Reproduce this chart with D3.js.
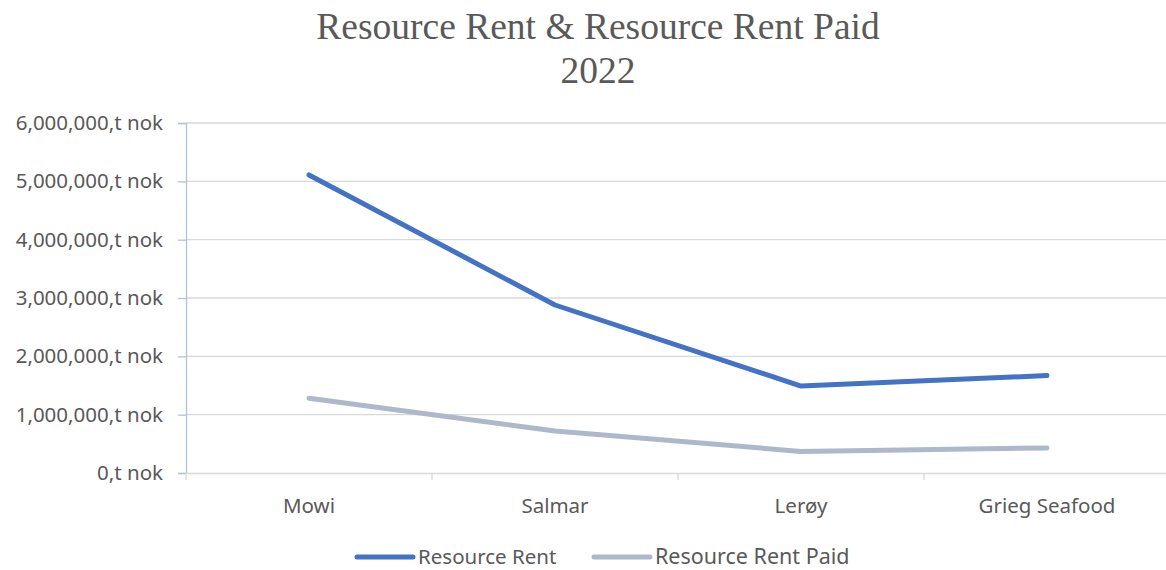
<!DOCTYPE html>
<html>
<head>
<meta charset="utf-8">
<script src="https://cdn.jsdelivr.net/npm/d3@7"></script>
<style>
body { margin: 0; background: #fff; }
text { fill: #595959; }
</style>
</head>
<body>
<script>
var width = 1166, height = 570;

var companies = ["Mowi", "Salmar", "Lerøy", "Grieg Seafood"];
var resourceRent = [5110000, 2880000, 1490000, 1670000];
var resourceRentPaid = [1280000, 720000, 370000, 430000];
var yTicks = [0, 1000000, 2000000, 3000000, 4000000, 5000000, 6000000];

var margin = {left: 186, right: 1170, top: 123, bottom: 473};
var labelFont = "'Noto Sans', sans-serif";
var labelSize = "20.5px";

var svg = d3.select("body").append("svg")
    .attr("width", width)
    .attr("height", height);

var x = d3.scaleBand().domain(companies).range([margin.left, margin.right]);
var y = d3.scaleLinear().domain([0, 6000000]).range([margin.bottom, margin.top]);

// title
svg.append("text")
    .attr("x", 598).attr("y", 39)
    .attr("text-anchor", "middle")
    .style("font-family", "'Liberation Serif', 'Times New Roman', serif")
    .style("font-size", "37.5px")
    .text("Resource Rent & Resource Rent Paid");
svg.append("text")
    .attr("x", 598).attr("y", 83)
    .attr("text-anchor", "middle")
    .style("font-family", "'Liberation Serif', 'Times New Roman', serif")
    .style("font-size", "37.5px")
    .text("2022");

// gridlines
svg.append("g").selectAll("line")
    .data(yTicks.slice(1))
    .enter().append("line")
    .attr("x1", margin.left).attr("x2", margin.right)
    .attr("y1", d => y(d)).attr("y2", d => y(d))
    .attr("stroke", "#d9d9d9").attr("stroke-width", 1.3);

// y axis
var fmt = d => d3.format(",")(d) + ",t nok";
var yAxis = svg.append("g")
    .attr("transform", "translate(" + margin.left + ",0)")
    .call(d3.axisLeft(y).tickValues(yTicks).tickFormat(fmt).tickSize(8).tickPadding(15));
yAxis.select(".domain").attr("stroke", "#b4c2d8").attr("stroke-width", 1.3);
yAxis.selectAll(".tick line").attr("stroke", "#b4c2d8").attr("stroke-width", 1.3);
yAxis.selectAll("text")
    .style("font-family", labelFont)
    .style("font-size", labelSize)
    .attr("fill", "#595959");

// x axis
var xAxis = svg.append("g")
    .attr("transform", "translate(0," + margin.bottom + ")")
    .call(d3.axisBottom(x).tickSize(0).tickPadding(25));
xAxis.select(".domain").attr("stroke", "#d9d9d9").attr("stroke-width", 1.3);
xAxis.selectAll("text")
    .style("font-family", labelFont)
    .style("font-size", labelSize)
    .attr("fill", "#595959");
var bounds = companies.map(c => x(c)).concat([margin.right]);
xAxis.selectAll(".sep")
    .data(bounds)
    .enter().append("line")
    .attr("x1", d => d).attr("x2", d => d)
    .attr("y1", 0).attr("y2", 7)
    .attr("stroke", "#d9d9d9").attr("stroke-width", 1.3);

// lines
var line = d3.line()
    .x((d, i) => x(companies[i]) + x.bandwidth() / 2)
    .y(d => y(d));

var series = [
    {name: "Resource Rent", values: resourceRent, color: "#4472c4"},
    {name: "Resource Rent Paid", values: resourceRentPaid, color: "#adb9ca"}
];

svg.append("g").selectAll("path")
    .data(series)
    .enter().append("path")
    .attr("d", d => line(d.values))
    .attr("fill", "none")
    .attr("stroke", d => d.color)
    .attr("stroke-width", 5)
    .attr("stroke-linecap", "round")
    .attr("stroke-linejoin", "round");

// legend
var legendX = [357, 594];
var lg = svg.append("g").selectAll("g")
    .data(series)
    .enter().append("g")
    .attr("transform", (d, i) => "translate(" + legendX[i] + ",557)");
lg.append("line")
    .attr("x1", 0).attr("x2", 56)
    .attr("stroke", d => d.color)
    .attr("stroke-width", 5)
    .attr("stroke-linecap", "round");
lg.append("text")
    .attr("x", 61).attr("y", 7)
    .style("font-family", labelFont)
    .style("font-size", d => d.name === "Resource Rent Paid" ? "21.5px" : labelSize)
    .text(d => d.name);
</script>
</body>
</html>
